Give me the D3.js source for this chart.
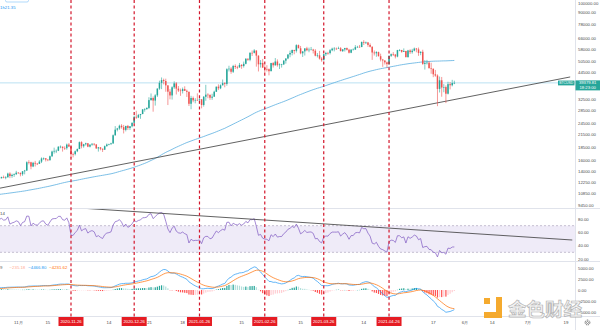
<!DOCTYPE html>
<html><head><meta charset="utf-8">
<script src="https://cdn.jsdelivr.net/npm/d3@7"></script>
<style>html,body{margin:0;padding:0;background:#fff;overflow:hidden}</style>
</head><body><svg id="c" width="600" height="330"></svg>
<script>
// ---------------- DATA ----------------
// daily BTCUSD candles, 2020-10-23 .. 2021-05-27 (open = previous close)
const startDate = "2020-10-23";
const closes = [
12930,13110,13030,13070,13650,13270,13450,13560,13800,
13760,13550,14020,14150,15590,15580,14830,15480,15330,15300,15700,16290,16330,16070,15970,16720,17660,17800,17820,18680,18700,18420,18370,19160,18720,17150,17140,17720,18180,19700,
18790,19230,19450,18700,19150,19360,19170,18320,18550,18250,18040,18800,19170,19270,19440,21360,22800,23130,23860,23480,22740,23820,23240,23730,24710,26490,26280,27040,27370,28890,28980,
29390,32200,33000,32030,34030,36830,39370,40670,40240,38240,35540,34010,37390,39160,36830,36020,35800,36630,35890,35470,30850,33010,32100,32280,32260,32490,30430,33470,34320,34270,33110,
33520,35510,37670,36960,38300,39260,38900,46200,46480,44840,47970,47410,47190,48580,47940,49200,52170,51590,55940,55920,57490,54130,48900,49710,47060,46340,46190,45140,
49630,48380,50540,48440,48880,48880,51030,52370,54880,55850,57810,57230,61180,59000,55630,56900,58910,57650,58030,58100,57350,54080,54340,52300,51320,55030,55850,55780,57630,58730,58740,
58720,58970,57060,58200,59130,57990,56000,58080,58100,59770,59990,59830,63500,62970,63130,61340,60010,56150,55630,56430,53780,51700,51150,50050,49000,54030,55030,54820,53560,57750,
57800,56580,57170,53200,57490,56400,57350,58800,58230,55860,56610,49150,49700,49880,46760,46430,43540,42900,36700,40600,37300,37500,34700,38800,38300,39300,39380];
const highs = [
13020,13170,13340,13250,13790,13860,13640,13680,14100,
13900,13830,14070,14250,15750,15960,15680,15650,15840,15460,15960,16490,16480,16330,16150,16850,17850,18480,18090,18800,18960,18700,18770,19390,19490,18900,17450,17880,18300,19860,
19920,19320,19580,19520,19180,19420,19400,19290,18640,18560,18290,18950,19410,19350,19570,21560,23770,23280,24170,24300,24100,23840,24100,23790,24790,26870,28420,27400,27410,28990,29300,
29600,33300,34800,33600,34500,36950,40400,41950,41380,41350,38300,36600,37850,40100,39750,37950,36850,37300,37850,36400,35600,33850,33600,32950,34850,32900,32600,33780,38500,34900,34300,
34700,35950,37700,38700,38700,40950,39700,46700,48100,47300,48600,48900,48100,49700,49000,50500,52600,52500,56300,57500,58400,57500,54300,51400,52100,48400,48400,46600,
49800,50200,52600,51800,49450,49200,51450,52400,54900,57400,58100,58000,61800,61600,60600,56900,58950,60000,59450,59900,58600,58400,55800,57200,53200,55100,56600,56600,58400,59400,59800,
59500,60100,59800,58500,59300,59500,58600,58200,58900,61200,60700,61300,63800,64860,63800,63500,62500,60400,57500,57000,56700,55400,52100,51200,50500,54300,55500,56400,55200,57900,
58400,57900,58900,57200,57900,58300,58600,59500,59200,59500,56900,58000,51400,51500,50700,49800,46600,45800,43500,42400,42200,38800,38200,39900,39800,40800,40400];
const lows = [
12720,12900,12920,12780,13050,12950,12990,13130,13420,
13620,13220,13300,13530,14090,15200,14360,14720,14830,15080,15280,15440,15990,15730,15780,15880,16560,17240,17350,17750,18350,17650,18000,18050,18600,16300,16500,16880,17540,18180,
18330,18470,18940,18580,18530,18880,18920,18220,17650,17920,17570,18020,18720,19000,19050,19290,21240,22350,22770,23060,21820,22350,22700,22700,23440,24500,25860,26100,25880,27320,28130,
28800,29000,32000,28130,30200,33400,36300,36600,38700,35500,30400,32500,32400,36700,34400,35400,33850,34800,35850,33400,30070,28950,31400,31000,31950,30850,29240,29850,31950,32900,32300,
32300,33450,35400,36200,36600,38200,37400,38100,45000,43800,44200,46300,46200,47000,46400,47100,48900,50900,50700,53900,55500,47600,45000,47100,47000,44200,45000,43000,
45100,47100,48100,47600,46300,47100,48500,49300,51900,53100,54300,55000,56100,59000,55000,53300,54200,57000,56300,57900,55500,53700,53000,51700,50400,51300,53900,54700,54900,57000,56900,
57900,58500,56900,56500,56800,57500,55500,55700,57700,57900,59300,59400,59800,61300,62000,60000,59600,51500,54200,53400,53600,50600,47500,48800,47000,48800,53300,53900,52400,53100,
57000,56000,56500,53000,52900,55200,55400,56900,56300,54000,54400,48600,46000,48800,46600,43800,42100,42300,30000,35200,33500,35300,31100,34400,36500,37800,38800];
// earlier daily closes (2020-06-25 .. 2020-10-22) used only to warm up the indicators
const warmupCloses = [
9250,9160,9000,9120,9190,9140,
9230,9090,9060,9130,9080,9340,9250,9430,9230,9290,9240,9300,9240,9250,9190,9130,9150,9170,9210,9160,9390,9530,9600,9540,9700,9930,11030,10910,11100,11110,11350,
11800,11070,11230,11190,11740,11770,11600,11760,11680,11880,11400,11580,11780,11770,11870,11910,12290,11960,11750,11870,11530,11680,11650,11760,11330,11470,11320,11530,11480,11710,11650,
11920,11400,10170,10470,10170,10250,10370,10130,10230,10340,10390,10440,10330,10680,10790,10950,10940,10930,11080,10920,10420,10530,10240,10740,10690,10730,10770,10700,10840,10780,
10620,10570,10550,10670,10790,10600,10670,10920,11060,11300,11380,11540,11430,11430,11500,11330,11370,11510,11750,11920,12820,12990];

const priceTicks = [100000,90000,78000,66000,58000,50500,44500,32500,28500,24500,21500,18500,16000,14000,12250,10850,9450];
const rsiTicks = [80,60,40,20];
const macdTicks = [5000,2500,0,-2500,-5000];
const cycleDates = ["2020-11-26","2020-12-26","2021-01-26","2021-02-26","2021-03-26","2021-04-26"];
const timeLabelDates = ["2020-11-01","2020-11-15","2020-12-14","2021-01-18","2021-02-15","2021-03-15","2021-04-14","2021-05-17","2021-06-01","2021-06-14","2021-07-01","2021-07-19"];
const timeLabelTexts = ["11月","15","14","18","15","15","14","17","6月","14","7月","19"];
const partialYearLabel = "21";   // visible tail of "2021" just right of the 2020-12-26 tag
const priceTrendDates = ["2020-10-23","2021-07-21"];
const priceTrendValues = [11500,42200];
const rsiTrendDates = ["2020-11-30","2021-07-22"];
const rsiTrendValues = [96.5,48.5];
const lastPriceText = "39379.81";
const countdownText = "18:23:00";
const maPeriod = 120;

// ---------------- SETUP ----------------
const svg = d3.select("#c");
const FONT = "'Liberation Sans', Arial, sans-serif";
const plotR = 575;
const parse = d3.utcParse("%Y-%m-%d");
const DAY = 864e5;
const x = d3.scaleUtc()
  .domain([Date.UTC(2020,9,23,7), Date.UTC(2021,6,23,7)])
  .range([0, plotR]);
const y = d3.scaleLog().domain([16000, 90000]).range([160, 12.1]);
const yR = d3.scaleLinear().domain([20, 80]).range([259, 219]);
const yM = d3.scaleLinear().domain([-5000, 5000]).range([312, 268]);

const t0 = parse(startDate).getTime();
const all = warmupCloses.concat(closes);
const off = warmupCloses.length;
const allDates = all.map((_, i) => new Date(t0 + (i - off) * DAY));

// indicators
function sma(a, n) { return a.map((_, i) => i < n - 1 ? null : d3.mean(a.slice(i - n + 1, i + 1))); }
function ema(a, n) { const k = 2 / (n + 1); let e = a[0]; return a.map((v, i) => (e = i === 0 ? v : v * k + e * (1 - k))); }
function rsi(c, n) {
  const out = c.map(() => null); let g = 0, l = 0;
  for (let i = 1; i <= n; i++) { const d = c[i] - c[i-1]; if (d > 0) g += d; else l -= d; }
  g /= n; l /= n; out[n] = 100 - 100 / (1 + g / l);
  for (let i = n + 1; i < c.length; i++) {
    const d = c[i] - c[i-1];
    g = (g * (n - 1) + Math.max(d, 0)) / n; l = (l * (n - 1) + Math.max(-d, 0)) / n;
    out[i] = l === 0 ? 100 : 100 - 100 / (1 + g / l);
  }
  return out;
}
const ma = sma(all, maPeriod);
const rs = rsi(all, 14);
const e12 = ema(all, 12), e26 = ema(all, 26);
const macd = all.map((_, i) => e12[i] - e26[i]);
const sig = ema(macd, 9);
const hist = macd.map((v, i) => v - sig[i]);

// clips
const defs = svg.append("defs");
[["cMain",0,0,plotR,208],["cRsi",0,208.5,plotR,52.5],["cMacd",0,262,plotR,54]].forEach(c=>{
  defs.append("clipPath").attr("id",c[0]).append("rect").attr("x",c[1]).attr("y",c[2]).attr("width",c[3]).attr("height",c[4]);
});

// ---------------- MAIN PANE ----------------
const gMain = svg.append("g").attr("clip-path","url(#cMain)");
gMain.append("line").attr("x1",0).attr("x2",plotR).attr("y1",y(+lastPriceText)).attr("y2",y(+lastPriceText))
  .attr("stroke","#a8d8ee").attr("stroke-width",0.8);
gMain.append("path")
  .datum(all.map((v,i)=>i).filter(i=>ma[i]!==null))
  .attr("d", d3.line().x(i=>x(allDates[i])).y(i=>y(ma[i])))
  .attr("fill","none").attr("stroke","#5aaee0").attr("stroke-width",0.8);
const trendLine = d3.line().x(d=>x(parse(d[0]))).y(d=>y(d[1]));
gMain.append("path").datum(priceTrendDates.map((d,i)=>[d,priceTrendValues[i]]))
  .attr("d",trendLine).attr("fill","none").attr("stroke","#3a3a3a").attr("stroke-width",0.8);
const UP="#26a69a", DN="#ef5350";
closes.forEach((c,i)=>{
  const o = all[off+i-1];
  const cx = x(allDates[off+i]);
  const col = c >= o ? UP : DN;
  gMain.append("line").attr("x1",cx).attr("x2",cx).attr("y1",y(highs[i])).attr("y2",y(lows[i]))
    .attr("stroke",col).attr("stroke-width",0.6);
  const y1 = y(Math.max(o,c)), y2 = y(Math.min(o,c));
  gMain.append("rect").attr("x",cx-0.75).attr("width",1.5).attr("y",y1).attr("height",Math.max(0.6,y2-y1)).attr("fill",col);
});

// ---------------- RSI PANE ----------------
const gR = svg.append("g").attr("clip-path","url(#cRsi)");
gR.append("rect").attr("x",0).attr("width",plotR).attr("y",yR(70)).attr("height",yR(30)-yR(70)).attr("fill","rgba(126,87,194,0.12)");
[70,30].forEach(v=>gR.append("line").attr("x1",0).attr("x2",plotR).attr("y1",yR(v)).attr("y2",yR(v))
  .attr("stroke","#a59cb5").attr("stroke-width",0.6).attr("stroke-dasharray","2,2"));
gR.append("path").datum(all.map((v,i)=>i).filter(i=>rs[i]!==null))
  .attr("d",d3.line().x(i=>x(allDates[i])).y(i=>yR(rs[i])))
  .attr("fill","none").attr("stroke","#7e57c2").attr("stroke-width",0.7);
gR.append("path").datum(rsiTrendDates.map((d,i)=>[d,rsiTrendValues[i]]))
  .attr("d",d3.line().x(d=>x(parse(d[0]))).y(d=>yR(d[1])))
  .attr("fill","none").attr("stroke","#3a3a3a").attr("stroke-width",0.8);
svg.append("text").attr("x",0).attr("y",215).attr("font-family",FONT).attr("font-size",4.3).attr("fill","#444").text("14");

// ---------------- MACD PANE ----------------
const gM = svg.append("g").attr("clip-path","url(#cMacd)");
all.forEach((v,i)=>{
  if (i===0) return;
  const h = hist[i], hp = hist[i-1];
  const col = h >= 0 ? (h >= hp ? "#26a69a" : "#b2dfdb") : (h < hp ? "#ff5252" : "#ffcdd2");
  const cx = x(allDates[i]);
  const ya = yM(Math.max(h,0)), yb = yM(Math.min(h,0));
  gM.append("rect").attr("x",cx-0.6).attr("width",1.2).attr("y",ya).attr("height",Math.max(0.3,yb-ya)).attr("fill",col);
});
gM.append("path").datum(all.map((v,i)=>i))
  .attr("d",d3.line().x(i=>x(allDates[i])).y(i=>yM(macd[i])))
  .attr("fill","none").attr("stroke","#2196f3").attr("stroke-width",0.7);
gM.append("path").datum(all.map((v,i)=>i))
  .attr("d",d3.line().x(i=>x(allDates[i])).y(i=>yM(sig[i])))
  .attr("fill","none").attr("stroke","#ff6d00").attr("stroke-width",0.7);
const n = all.length-1;
const fmt = d3.format(".2f");
const leg = svg.append("text").attr("x",0).attr("y",268.5).attr("font-family",FONT).attr("font-size",4.3);
leg.append("tspan").attr("fill","#666").text("9 ");
leg.append("tspan").attr("fill","#ffab91").attr("dx",6).text(fmt(hist[n]).replace("-","−"));
leg.append("tspan").attr("fill","#2196f3").attr("dx",3).text(fmt(macd[n]).replace("-","−"));
leg.append("tspan").attr("fill","#ff6d00").attr("dx",3).text(fmt(sig[n]).replace("-","−"));

// ---------------- FRAME / SEPARATORS ----------------
[208.5,261.5,316.5].forEach(v=>svg.append("line").attr("x1",0).attr("x2",600).attr("y1",v).attr("y2",v).attr("stroke","#e0e3eb").attr("stroke-width",1));
svg.append("line").attr("x1",plotR+0.5).attr("x2",plotR+0.5).attr("y1",0).attr("y2",330).attr("stroke","#e0e3eb").attr("stroke-width",1);

cycleDates.forEach(d=>{
  svg.append("line").attr("x1",x(parse(d))).attr("x2",x(parse(d))).attr("y1",0).attr("y2",317)
    .attr("stroke","#d3162b").attr("stroke-width",1.2).attr("stroke-dasharray","3,2.6");
});

// ---------------- AXES ----------------
const axFont = (s)=>s.attr("font-family",FONT).attr("font-size",4.3).attr("fill","#4a4a4a");
priceTicks.forEach(v=>{
  svg.append("text").attr("x",578).attr("y",y(v)+1.5).call(axFont).text(fmt(v));
});
rsiTicks.forEach(v=>svg.append("text").attr("x",578).attr("y",yR(v)+1.5).call(axFont).text(fmt(v)));
macdTicks.forEach(v=>svg.append("text").attr("x",578).attr("y",yM(v)+1.5).call(axFont).text(fmt(v).replace("-","−")));

timeLabelDates.forEach((d,i)=>{
  svg.append("text").attr("x",x(parse(d))).attr("y",323.5).attr("text-anchor","middle").call(axFont).text(timeLabelTexts[i]);
});
svg.append("text").attr("x",x(parse(cycleDates[1]))+13).attr("y",323.5).call(axFont).text(partialYearLabel);
cycleDates.forEach(d=>{
  const cx = x(parse(d));
  svg.append("rect").attr("x",cx-12.5).attr("y",317).attr("width",25).attr("height",9).attr("fill","#e51c23");
  svg.append("text").attr("x",cx).attr("y",323.2).attr("text-anchor","middle").attr("font-family",FONT)
    .attr("font-size",4.2).attr("fill","#fff").text(d);
});
const gear = svg.append("g").attr("transform","translate(587.5,322.5)");
gear.append("circle").attr("r",2.4).attr("fill","none").attr("stroke","#555").attr("stroke-width",0.9).attr("stroke-dasharray","1.2,0.7");
gear.append("circle").attr("r",1).attr("fill","none").attr("stroke","#555").attr("stroke-width",0.6);

// price tags
const yp = y(+lastPriceText);
svg.append("rect").attr("x",558).attr("y",yp-2.3).attr("width",16.5).attr("height",4.8).attr("fill","#26a69a");
svg.append("text").attr("x",566.2).attr("y",yp+1.3).attr("text-anchor","middle").attr("font-family",FONT).attr("font-size",3.4).attr("fill","#fff").text("BTCUSD");
svg.append("rect").attr("x",575.5).attr("y",yp-2.5).attr("width",24.5).attr("height",10).attr("fill","#26a69a");
svg.append("text").attr("x",587.7).attr("y",yp+1.6).attr("text-anchor","middle").attr("font-family",FONT).attr("font-size",4.2).attr("fill","#fff").text(lastPriceText);
svg.append("text").attr("x",587.7).attr("y",yp+6.3).attr("text-anchor","middle").attr("font-family",FONT).attr("font-size",4.2).attr("fill","#fff").text(countdownText);

// top-left legend remnant
svg.append("rect").attr("x",5.5).attr("y",-6).attr("width",23).attr("height",8).attr("rx",1.5).attr("fill","none").attr("stroke","#90caf9").attr("stroke-width",0.7);
svg.append("text").attr("x",0).attr("y",9).attr("font-family",FONT).attr("font-size",4.3).attr("fill","#2196f3").text("1h21.35");

// watermark
const wm = svg.append("g").attr("opacity",0.95);
wm.append("path").attr("d","M496,297 h6 v21 h-18 v-6 h12 z").attr("fill","#f5a623");
wm.append("rect").attr("x",484).attr("y",298).attr("width",6).attr("height",6).attr("fill","#f5a623");
wm.append("text").attr("x",508).attr("y",315.5).attr("font-family","'Noto Sans CJK SC', sans-serif").attr("font-size",18.5)
  .attr("font-weight",700).attr("fill","#f2f2f2").attr("stroke","#a8a8a8").attr("stroke-width",0.7).attr("opacity",0.9).text("金色财经");
</script>
</body></html>
